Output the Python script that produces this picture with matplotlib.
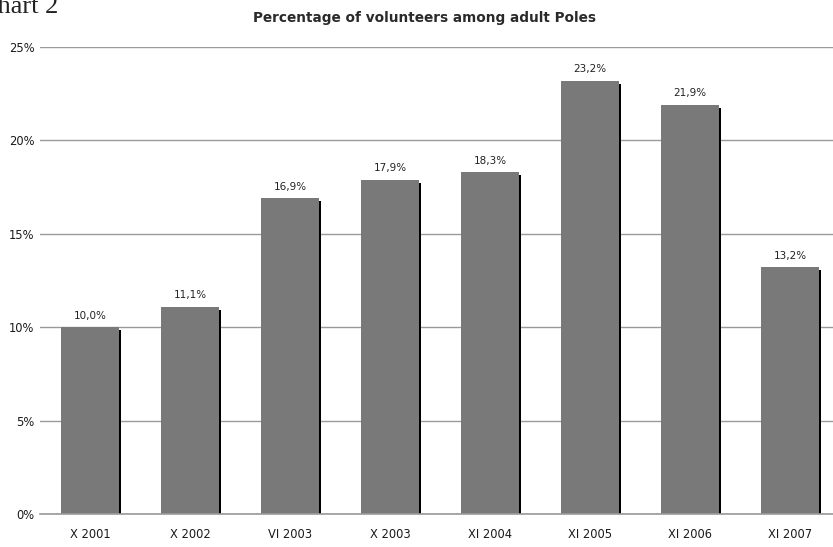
import matplotlib.pyplot as plt
import numpy as np

# survey waves and share of adult volunteers (%)
waves = ["X 2001", "X 2002", "VI 2003", "X 2003", "XI 2004", "XI 2005", "XI 2006", "XI 2007"]
share = [10.0, 11.1, 16.9, 17.9, 18.3, 23.2, 21.9, 13.2]
yticks = [0, 5, 10, 15, 20, 25]

fig = plt.figure(figsize=(8.33, 5.47), dpi=100)
ax = fig.add_axes([0.048, 0.0603, 0.952, 0.8537])

x = np.arange(len(waves))
w = 0.58

# thin black shadow on the right side of each bar
ax.bar(x + 0.02, np.array(share) - 0.16, width=w, color="black", zorder=2)
ax.bar(x, share, width=w, color="#797979", zorder=3)

for xi, v in zip(x, share):
    ax.text(xi, v + 0.35, f"{v:.1f}".replace(".", ",") + "%", ha="center", va="bottom",
            fontsize=7.5, color="#222222", zorder=4)

ax.set_xlim(-0.5, 7.43)
ax.set_ylim(0, 25)
ax.set_yticks(yticks)
ax.set_yticklabels([f"{t}%" for t in yticks])
ax.set_xticks(x)
ax.set_xticklabels(waves)
ax.tick_params(length=0, labelsize=8.3, colors="#1a1a1a")
ax.tick_params(axis="x", pad=10)
ax.tick_params(axis="y", pad=4)
ax.yaxis.grid(True, color="#9a9a9a", linewidth=1)
ax.axhline(0, color="#9a9a9a", linewidth=1.2, clip_on=False, zorder=4)
ax.set_axisbelow(True)
for s in ax.spines.values():
    s.set_visible(False)

fig.text(0.51, 0.968, "Percentage of volunteers among adult Poles", ha="center", va="center",
         fontsize=9.8, fontweight="bold", color="#2a2a2a")
fig.text(-0.024, 0.988, "Chart 2", ha="left", va="center", fontsize=19,
         family="Liberation Serif", color="#222222")

fig.savefig("out.png", dpi=100)
